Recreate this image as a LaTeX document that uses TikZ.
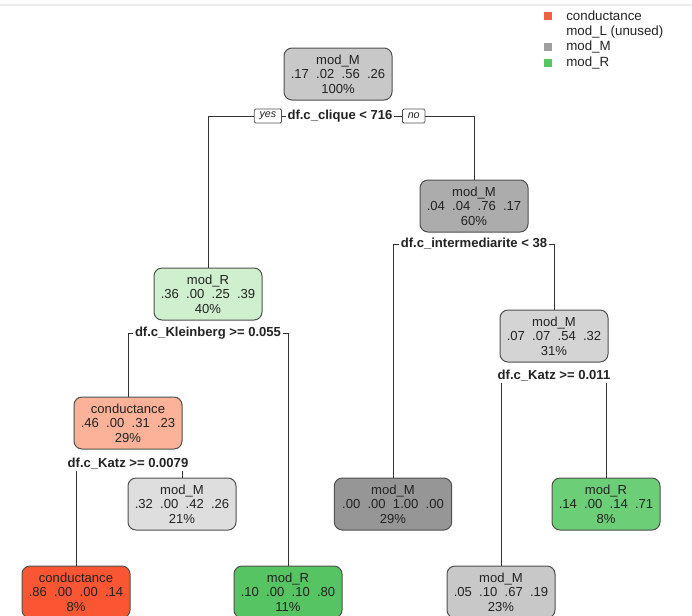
\documentclass[tikz,border=0pt]{standalone}
\usepackage{fontspec}
\setmainfont{Liberation Sans}
\definecolor{boxline}{RGB}{80,80,80}
\definecolor{edgeline}{RGB}{50,50,50}
\definecolor{txt}{RGB}{35,35,35}
\definecolor{cRoot}{RGB}{200,200,200}
\definecolor{cMa}{RGB}{172,172,172}
\definecolor{cMb}{RGB}{212,212,212}
\definecolor{cMc}{RGB}{222,222,222}
\definecolor{cMd}{RGB}{150,150,150}
\definecolor{cMe}{RGB}{200,200,200}
\definecolor{cRa}{RGB}{206,240,206}
\definecolor{cRb}{RGB}{108,206,118}
\definecolor{cRc}{RGB}{86,196,98}
\definecolor{cCa}{RGB}{252,178,152}
\definecolor{cCb}{RGB}{250,86,52}
\definecolor{cLegC}{RGB}{240,96,64}
\definecolor{cLegM}{RGB}{160,160,160}
\definecolor{cLegR}{RGB}{84,198,100}
\begin{document}
\begin{tikzpicture}[x=0.75pt,y=-0.75pt,
  box/.style={draw=boxline, line width=0.75pt, rounded corners=6pt, minimum width=81pt, minimum height=39pt, align=center, inner sep=0pt, text=txt, font=\fontsize{9.8}{10.9}\selectfont},
  split/.style={font=\fontsize{9.8}{12}\selectfont\bfseries, inner sep=1pt, fill=white, text=txt},
  yn/.style={draw=boxline, line width=0.6pt, rounded corners=1pt, font=\fontsize{8}{9}\selectfont\itshape, inner xsep=4pt, inner ysep=1pt, minimum height=10.5pt, fill=white, text=txt},
  edge/.style={draw=edgeline, line width=0.75pt},
  legsq/.style={fill=#1, minimum size=6pt, inner sep=0pt},
  legtx/.style={anchor=west, inner sep=0pt, text=txt, font=\fontsize{10}{12}\selectfont},
]
\useasboundingbox (0,0) rectangle (692,615);
\clip (0,0) rectangle (692,615);
\fill[white] (0,0) rectangle (692,615);
\draw[black!8, line width=0.8pt] (0,5) -- (692,5);

% legend
\node[legsq=cLegC] (lq1) at (548,16) {};
\node[legsq=cLegM] (lq3) at (548,47) {};
\node[legsq=cLegR] (lq4) at (548,63) {};
\node[legtx] (lt1) at (566,16) {conductance};
\node[legtx] (lt2) at (566,32) {mod\_L (unused)};
\node[legtx] (lt3) at (566,47) {mod\_M};
\node[legtx] (lt4) at (566,63) {mod\_R};

% nodes
\node[box, fill=cRoot] (root) at (338,74) {mod\_M\\.17\ \ .02\ \ .56\ \ .26\\100\%};
\node[box, fill=cMa] (m1) at (474,206) {mod\_M\\.04\ \ .04\ \ .76\ \ .17\\60\%};
\node[box, fill=cRa] (r1) at (208,294) {mod\_R\\.36\ \ .00\ \ .25\ \ .39\\40\%};
\node[box, fill=cMb] (m2) at (554,336) {mod\_M\\.07\ \ .07\ \ .54\ \ .32\\31\%};
\node[box, fill=cCa] (c1) at (128,423) {conductance\\.46\ \ .00\ \ .31\ \ .23\\29\%};
\node[box, fill=cMc] (m3) at (182,504) {mod\_M\\.32\ \ .00\ \ .42\ \ .26\\21\%};
\node[box, fill=cMd, minimum width=88pt] (m4) at (393,504) {mod\_M\\.00\ \ .00\ \ 1.00\ \ .00\\29\%};
\node[box, fill=cRb] (r2) at (606,504) {mod\_R\\.14\ \ .00\ \ .14\ \ .71\\8\%};
\node[box, fill=cCb] (c2) at (76,592) {conductance\\.86\ \ .00\ \ .00\ \ .14\\8\%};
\node[box, fill=cRc] (r3) at (288,592) {mod\_R\\.10\ \ .00\ \ .10\ \ .80\\11\%};
\node[box, fill=cMe] (m5) at (501,592) {mod\_M\\.05\ \ .10\ \ .67\ \ .19\\23\%};

% split labels
\node[split] (s1) at (340,116) {df.c\_clique < 716};
\node[yn, anchor=east] (yes) at ([xshift=-3pt]s1.west) {yes};
\node[yn, anchor=west] (no) at ([xshift=6pt]s1.east) {no};
\node[split] (s2) at (474,244) {df.c\_intermediarite < 38};
\node[split] (s3) at (208,333) {df.c\_Kleinberg >= 0.055};
\node[split] (s4) at (554,376) {df.c\_Katz >= 0.011};
\node[split] (s5) at (128,464) {df.c\_Katz >= 0.0079};

% connectors
\draw[edge] (yes.west) -| (r1.north);
\draw[edge] (yes.east) -- (s1.west);
\draw[edge] (s1.east) -- (no.west);
\draw[edge] (no.east) -| (m1.north);
\draw[edge] (s2.west) -| (m4.north);
\draw[edge] (s2.east) -| (m2.north);
\draw[edge] (s3.west) -| (c1.north);
\draw[edge] (s3.east) -| (r3.north);
\draw[edge] (s4.south -| m5.north) -- (m5.north);
\draw[edge] (s4.south -| r2.north) -- (r2.north);
\draw[edge] (s5.south -| c2.north) -- (c2.north);
\draw[edge] (s5.south -| m3.north) -- (m3.north);
\end{tikzpicture}
\end{document}
